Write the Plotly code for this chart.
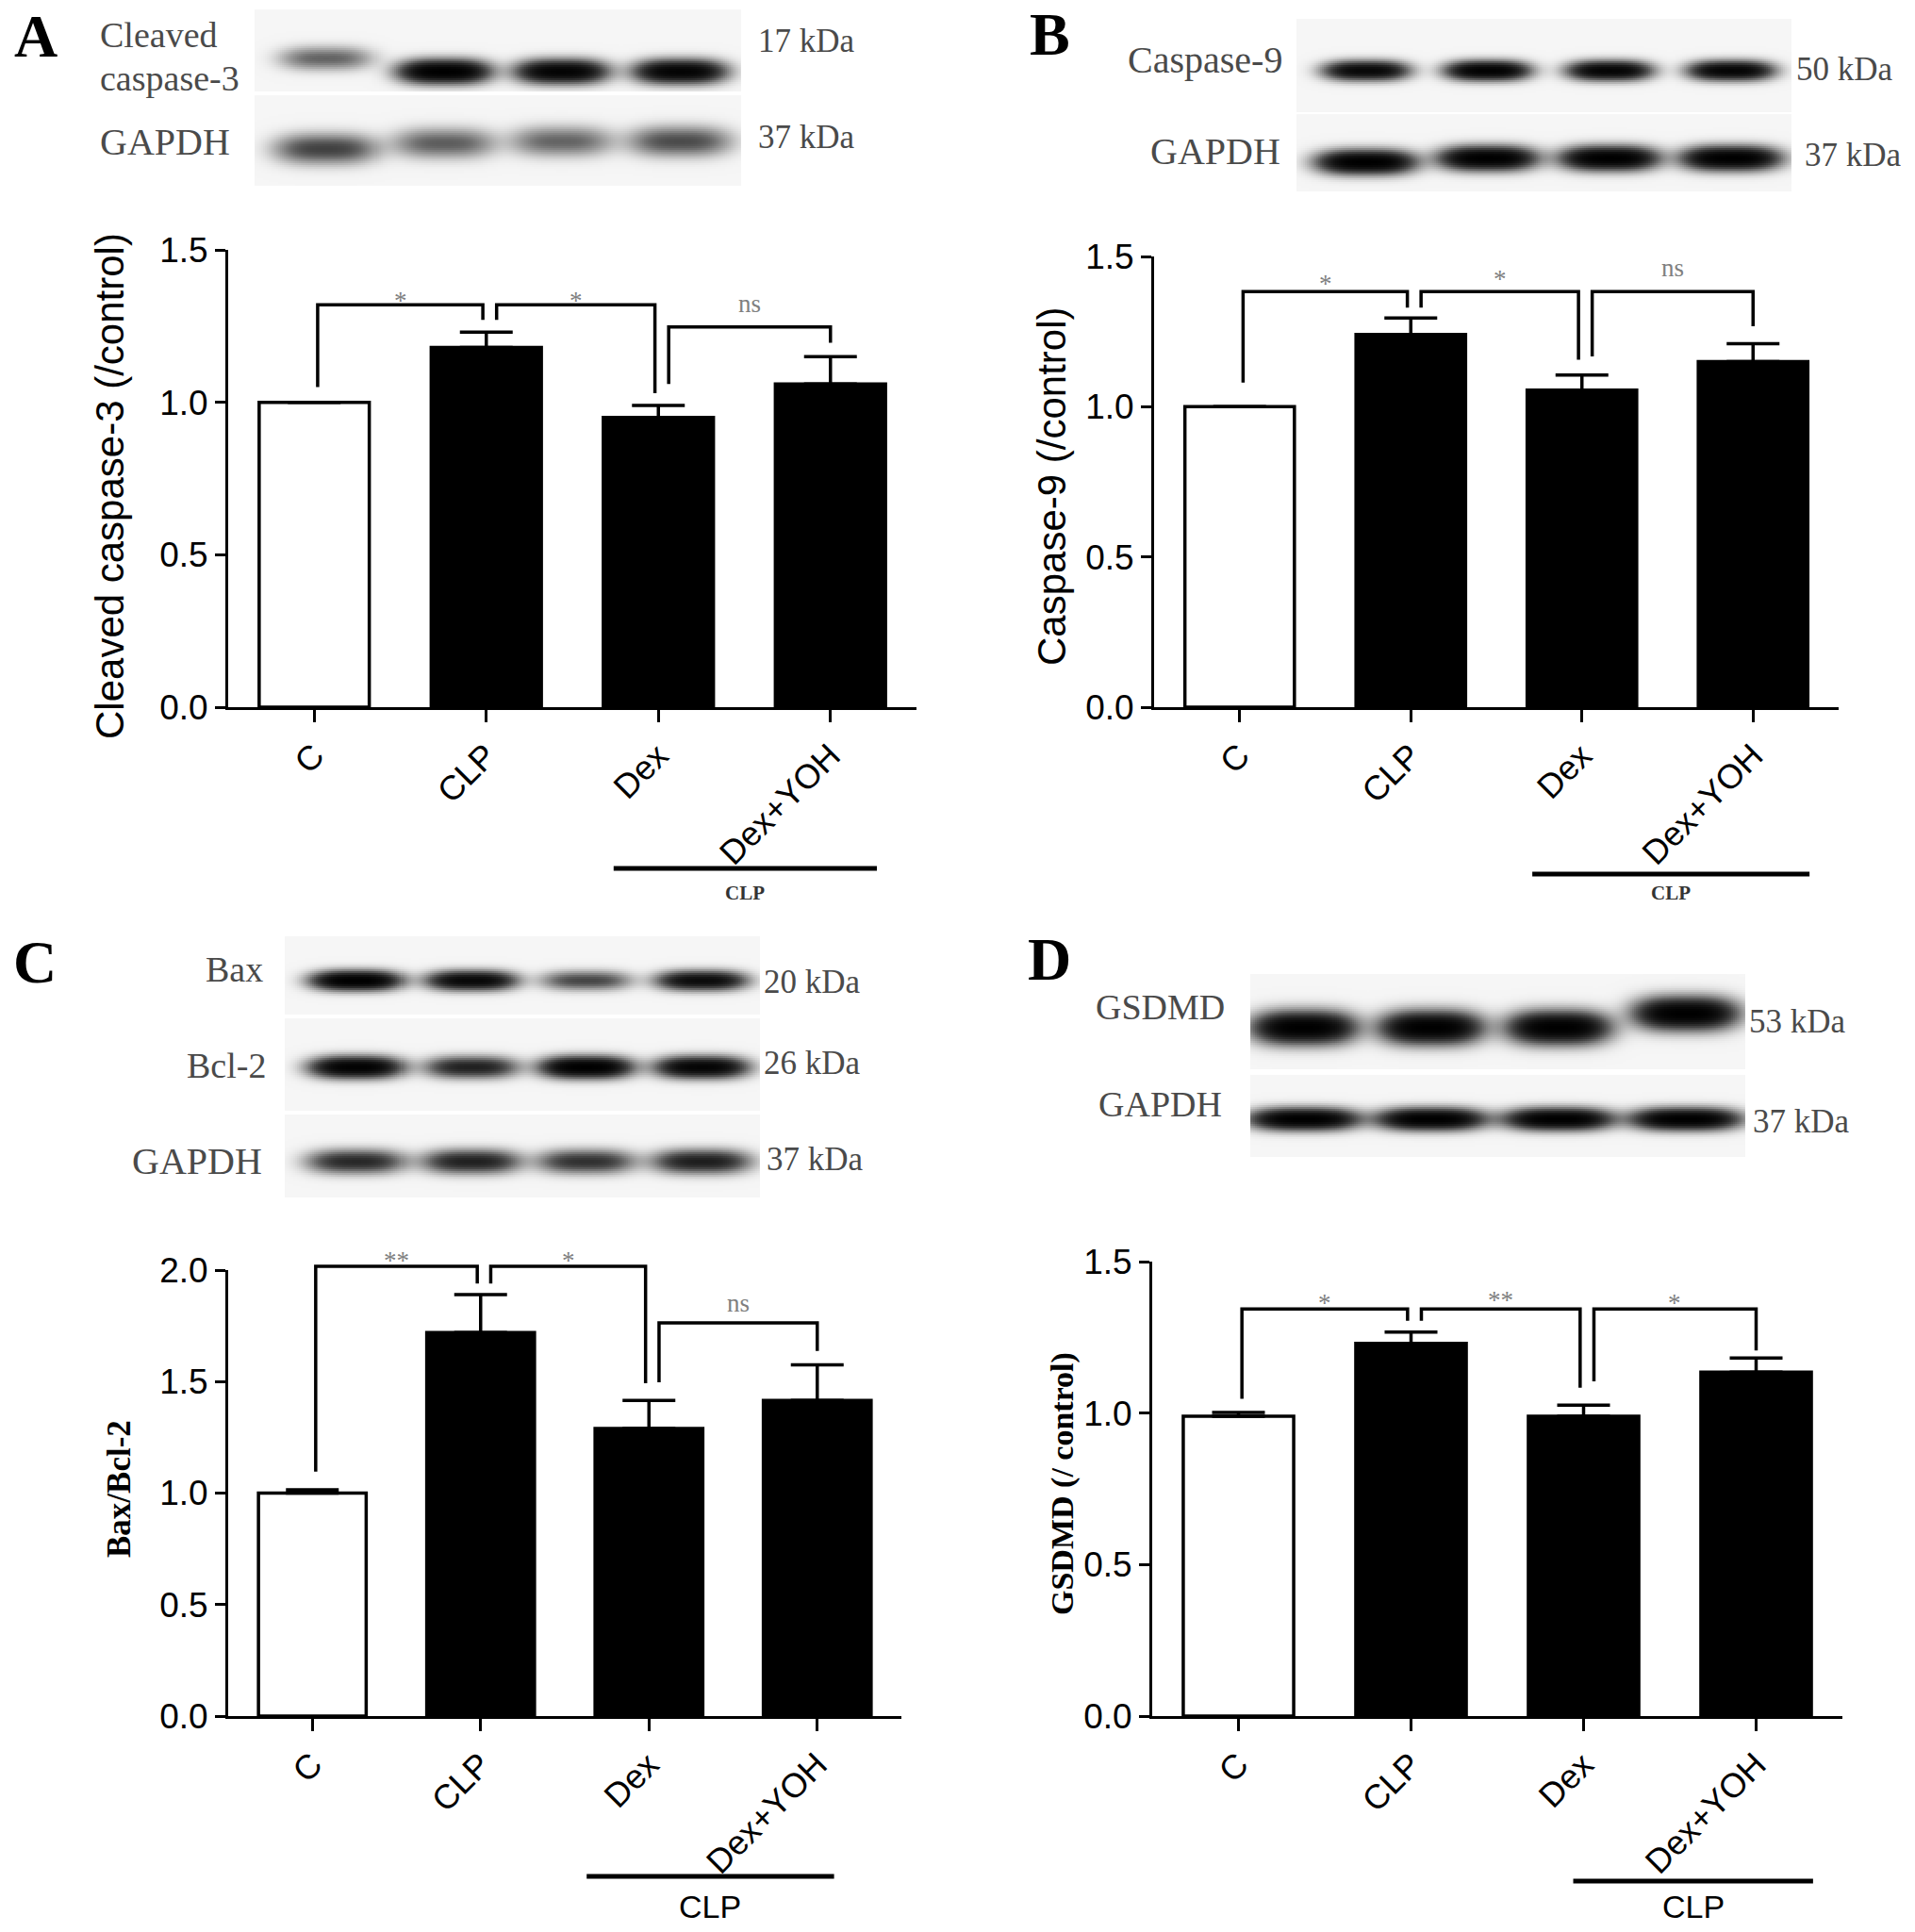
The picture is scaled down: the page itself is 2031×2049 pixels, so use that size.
import numpy as np
import plotly.graph_objects as go

W, H = 2031, 2049

groups = ["C", "CLP", "Dex", "Dex+YOH"]
fills = ["white", "black", "black", "black"]
pairs = [(0, 1), (1, 2), (2, 3)]

# A - cleaved caspase-3
a_mean = [1.00, 1.18, 0.95, 1.06]
a_err = [0.0, 0.05, 0.04, 0.09]
a_sig = ["*", "*", "ns"]
a_bracket_y = [1.32, 1.32, 1.247]
a_leg_ends = [[1.05, 1.27], [1.27, 1.03], [1.06, 1.195]]
a_sig_y = [1.354, 1.354, 1.317]
a_band_casp3 = [0.3, 1.0, 0.92, 0.92]
a_band_gapdh = [0.42, 0.32, 0.3, 0.38]

# B - caspase-9
b_mean = [1.00, 1.24, 1.055, 1.15]
b_err = [0.0, 0.055, 0.05, 0.06]
b_sig = ["*", "*", "ns"]
b_bracket_y = [1.383, 1.383, 1.383]
b_leg_ends = [[1.08, 1.33], [1.33, 1.156], [1.167, 1.268]]
b_sig_y = [1.43, 1.446, 1.456]
b_band_casp9 = [0.85, 0.95, 0.9, 0.9]
b_band_gapdh = [1.0, 1.0, 1.0, 1.0]

# C - Bax/Bcl-2
c_mean = [1.00, 1.72, 1.29, 1.415]
c_err = [0.015, 0.17, 0.125, 0.16]
c_sig = ["**", "*", "ns"]
c_bracket_y = [2.017, 2.017, 1.763]
c_leg_ends = [[1.096, 1.94], [1.94, 1.493], [1.497, 1.637]]
c_sig_y = [2.07, 2.07, 1.845]
c_band_bax = [1.0, 0.85, 0.4, 0.8]
c_band_bcl2 = [0.95, 0.6, 1.0, 0.9]
c_band_gapdh = [0.55, 0.6, 0.5, 0.62]

# D - GSDMD
d_mean = [0.99, 1.23, 0.99, 1.135]
d_err = [0.012, 0.037, 0.036, 0.047]
d_sig = ["*", "**", "*"]
d_bracket_y = [1.344, 1.344, 1.344]
d_leg_ends = [[1.047, 1.305], [1.305, 1.084], [1.105, 1.207]]
d_sig_y = [1.384, 1.394, 1.384]
d_band_gsdmd = [1.0, 1.0, 1.0, 1.0]
d_band_gapdh = [1.0, 1.0, 1.0, 1.0]

SANS = "Liberation Sans, Arial, sans-serif"
SERIF = "Liberation Serif, Times New Roman, serif"
LABEL_GRAY = "#4a4a4a"


def fx(p):
    return p / W


def fy(p):
    return 1 - p / H


panels = [
    dict(letter="A", letter_pos=(13, 38), mean=a_mean, err=a_err, sig=a_sig,
         bracket_y=a_bracket_y, leg_ends=a_leg_ends, sig_y=a_sig_y,
         plot=(242, 972, 265, 750), ymax=1.5,
         ytitle="Cleaved caspase-3 (/control)", ytitle_font=dict(family=SANS, size=42, color="black"),
         ytitle_pos=(116, 516),
         clp=dict(x0=1.74, x1=3.27, y=921, ly=947, font=dict(family=SERIF, size=21, color="#333", weight="bold")),
         blot=dict(box=(270, 786, 10, 197), lane0=346, sp=125, strips=[
             dict(top=10, bot=97, bands=a_band_casp3, yc=[62, 76, 76, 76], sy=11, wx=0.36),
             dict(top=101, bot=197, bands=a_band_gapdh, yc=[158, 152, 150, 150], sy=14, wx=0.4)]),
         labels=[("Cleaved", 104, 37, "left", 38), ("caspase-3", 104, 83, "left", 38),
                 ("GAPDH", 104, 150, "left", 40),
                 ("17 kDa", 802, 43, "left", 35), ("37 kDa", 802, 146, "left", 35)]),
    dict(letter="B", letter_pos=(1090, 36), mean=b_mean, err=b_err, sig=b_sig,
         bracket_y=b_bracket_y, leg_ends=b_leg_ends, sig_y=b_sig_y,
         plot=(1224, 1950, 272, 750), ymax=1.5,
         ytitle="Caspase-9 (/control)", ytitle_font=dict(family=SANS, size=42, color="black"),
         ytitle_pos=(1115, 516),
         clp=dict(x0=1.71, x1=3.33, y=927, ly=947, font=dict(family=SERIF, size=21, color="#333", weight="bold")),
         blot=dict(box=(1375, 1900, 20, 203), lane0=1449, sp=129, strips=[
             dict(top=20, bot=118, bands=b_band_casp9, yc=75, sy=9, wx=0.32),
             dict(top=121, bot=203, bands=b_band_gapdh, yc=[172, 168, 168, 168], sy=11, wx=0.37)]),
         labels=[("Caspase-9", 1362, 63, "right", 40), ("GAPDH", 1360, 161, "right", 40),
                 ("50 kDa", 1903, 74, "left", 35), ("37 kDa", 1912, 165, "left", 35)]),
    dict(letter="C", letter_pos=(12, 1020), mean=c_mean, err=c_err, sig=c_sig,
         bracket_y=c_bracket_y, leg_ends=c_leg_ends, sig_y=c_sig_y,
         plot=(242, 956, 1347, 1820), ymax=2.0,
         ytitle="Bax/Bcl-2", ytitle_font=dict(family=SERIF, size=35, color="black", weight="bold"),
         ytitle_pos=(126, 1579),
         clp=dict(x0=1.63, x1=3.10, y=1990, ly=2022, font=dict(family=SANS, size=34, color="black")),
         blot=dict(box=(302, 806, 993, 1270), lane0=378, sp=122, strips=[
             dict(top=993, bot=1075, bands=c_band_bax, yc=1040, sy=9, wx=0.36),
             dict(top=1080, bot=1177, bands=c_band_bcl2, yc=1132, sy=10, wx=0.37),
             dict(top=1182, bot=1270, bands=c_band_gapdh, yc=1232, sy=11, wx=0.39)]),
         labels=[("Bax", 281, 1028, "right", 38), ("Bcl-2", 284, 1130, "right", 38),
                 ("GAPDH", 280, 1231, "right", 40),
                 ("20 kDa", 808, 1041, "left", 35), ("26 kDa", 808, 1127, "left", 35),
                 ("37 kDa", 811, 1229, "left", 35)]),
    dict(letter="D", letter_pos=(1088, 1017), mean=d_mean, err=d_err, sig=d_sig,
         bracket_y=d_bracket_y, leg_ends=d_leg_ends, sig_y=d_sig_y,
         plot=(1222, 1954, 1338, 1820), ymax=1.5,
         ytitle="GSDMD (/ control)", ytitle_font=dict(family=SERIF, size=34, color="black", weight="bold"),
         ytitle_pos=(1127, 1574),
         clp=dict(x0=1.94, x1=3.33, y=1995, ly=2022, font=dict(family=SANS, size=34, color="black")),
         blot=dict(box=(1326, 1851, 1033, 1227), lane0=1383, sp=135, strips=[
             dict(top=1033, bot=1133, bands=d_band_gsdmd, yc=[1090, 1090, 1090, 1075], sy=15, wx=0.37),
             dict(top=1140, bot=1227, bands=d_band_gapdh, yc=1187, sy=10, wx=0.39)]),
         labels=[("GSDMD", 1160, 1068, "left", 38), ("GAPDH", 1163, 1171, "left", 38),
                 ("53 kDa", 1853, 1083, "left", 35), ("37 kDa", 1857, 1189, "left", 35)]),
]

fig = go.Figure()
layout = {}
annotations = []
shapes = []
n_ax = 0


def new_axes():
    global n_ax
    n_ax += 1
    return "" if n_ax == 1 else str(n_ax)


def blot_heatmap(blot):
    left, right, top, bot = blot["box"]
    lane0, sp = blot["lane0"], blot["sp"]
    xlo, xhi = (left - lane0) / sp, (right - lane0) / sp
    xs = np.linspace(xlo, xhi, int((right - left) / 2))
    ys = np.arange(top, bot + 1, 2.0)
    X, Y = np.meshgrid(xs, ys)
    z = np.full(X.shape, np.nan)
    for s in blot["strips"]:
        yc = s["yc"] if isinstance(s["yc"], list) else [s["yc"]] * 4
        dens = np.zeros(X.shape)
        for i, a in enumerate(s["bands"]):
            dens += a * np.exp(-np.abs((X - i) / s["wx"]) ** 3) * np.exp(-((Y - yc[i]) / s["sy"]) ** 2)
        vals = 0.04 + 0.96 * (1 - np.exp(-3 * dens)) / (1 - np.exp(-3))
        rows = (ys >= s["top"]) & (ys <= s["bot"])
        z[rows] = vals[rows]
    return xs, ys, z, (xlo, xhi)


for p in panels:
    x0, x1, ytop, ybot = p["plot"]
    ymax = p["ymax"]

    # bar chart
    s = new_axes()
    fig.add_trace(go.Bar(
        x=[0, 1, 2, 3], y=p["mean"], width=0.64,
        marker=dict(color=fills, line=dict(color="black", width=3.5)),
        error_y=dict(type="data", array=p["err"], arrayminus=[0, 0, 0, 0], symmetric=False,
                     color="black", thickness=3.5, width=28),
        xaxis="x" + s, yaxis="y" + s, hoverinfo="skip"))
    layout["xaxis" + s] = dict(
        domain=[fx(x0), fx(x1)], anchor="y" + s, range=[-0.5, 3.5],
        tickvals=[0, 1, 2, 3], ticktext=groups, tickangle=-45,
        showline=True, linecolor="black", linewidth=3, ticks="outside", ticklen=13, tickwidth=3,
        tickcolor="black", showgrid=False, zeroline=False, automargin=False,
        tickfont=dict(family=SANS, size=36, color="black"))
    tv = list(np.arange(0, ymax + 0.01, 0.5))
    layout["yaxis" + s] = dict(
        domain=[fy(ybot), fy(ytop)], anchor="x" + s, range=[0, ymax],
        tickvals=tv, ticktext=[f"{v:.1f}" for v in tv],
        showline=True, linecolor="black", linewidth=3, ticks="outside", ticklen=11, tickwidth=3,
        tickcolor="black", showgrid=False, zeroline=False, automargin=False,
        tickfont=dict(family=SANS, size=37, color="black"))
    bar_x = "x" + s

    # significance brackets on an invisible overlay that reaches above the axis
    so = new_axes()
    h = ybot - ytop
    extra = 0.16 * h
    layout["xaxis" + so] = dict(domain=[fx(x0), fx(x1)], anchor="y" + so, range=[-0.5, 3.5], visible=False)
    layout["yaxis" + so] = dict(domain=[fy(ybot), fy(ytop - extra)], anchor="x" + so,
                                range=[0, ymax * (h + extra) / h], visible=False)
    bx, by = [], []
    for k, (i, j) in enumerate(pairs):
        l = i + (0.06 if i > 0 else 0.02)
        r = j - 0.02 if j < 3 else j
        lo_l, lo_r = p["leg_ends"][k]
        top = p["bracket_y"][k]
        bx += [l, l, r, r, None]
        by += [lo_l, top, top, lo_r, None]
        annotations.append(dict(
            x=(l + r) / 2, y=p["sig_y"][k], xref="x" + so, yref="y" + so, text=p["sig"][k],
            showarrow=False, xanchor="center", yanchor="middle",
            yshift=-7 if "*" in p["sig"][k] else 2,
            font=dict(family=SERIF, size=27, color="#808080")))
    fig.add_trace(go.Scatter(x=bx, y=by, mode="lines", line=dict(color="black", width=3.5),
                             xaxis="x" + so, yaxis="y" + so, hoverinfo="skip"))

    # western blot image
    sb = new_axes()
    left, right, top_px, bot_px = p["blot"]["box"]
    xs, ys, z, xr = blot_heatmap(p["blot"])
    fig.add_trace(go.Heatmap(x=xs, y=ys, z=z, zmin=0, zmax=1, showscale=False, hoverinfo="skip",
                             colorscale=[[0, "#ffffff"], [0.5, "#8a8a8a"], [1, "#000000"]],
                             xaxis="x" + sb, yaxis="y" + sb))
    layout["xaxis" + sb] = dict(domain=[fx(left), fx(right)], anchor="y" + sb, range=list(xr), visible=False)
    layout["yaxis" + sb] = dict(domain=[fy(bot_px), fy(top_px)], anchor="x" + sb,
                                range=[bot_px, top_px], visible=False)

    for text, lx, ly, anchor, size in p["labels"]:
        annotations.append(dict(x=fx(lx), y=fy(ly), xref="paper", yref="paper", text=text,
                                showarrow=False, xanchor=anchor, yanchor="middle",
                                font=dict(family=SERIF, size=size, color=LABEL_GRAY)))

    # panel letter
    annotations.append(dict(x=fx(p["letter_pos"][0]), y=fy(p["letter_pos"][1]), xref="paper", yref="paper",
                            text=p["letter"], showarrow=False, xanchor="left", yanchor="middle",
                            font=dict(family=SERIF, size=64, color="black", weight="bold")))

    # y axis title
    annotations.append(dict(x=fx(p["ytitle_pos"][0]), y=fy(p["ytitle_pos"][1]), xref="paper", yref="paper",
                            text=p["ytitle"], textangle=-90, showarrow=False,
                            xanchor="center", yanchor="middle", font=p["ytitle_font"]))

    # CLP group underline
    c = p["clp"]
    shapes.append(dict(type="line", xref=bar_x, yref="paper", x0=c["x0"], x1=c["x1"],
                       y0=fy(c["y"]), y1=fy(c["y"]), line=dict(color="black", width=5)))
    annotations.append(dict(x=(c["x0"] + c["x1"]) / 2, y=fy(c["ly"]), xref=bar_x, yref="paper",
                            text="CLP", showarrow=False, xanchor="center", yanchor="middle",
                            font=c["font"]))

fig.update_layout(
    width=W, height=H,
    margin=dict(l=0, r=0, t=0, b=0, pad=0, autoexpand=False),
    paper_bgcolor="white", plot_bgcolor="rgba(0,0,0,0)",
    showlegend=False,
    annotations=annotations, shapes=shapes,
    **layout)

fig.write_html("out.html", config={"displayModeBar": False},
               post_script="document.body.style.margin='0';")
